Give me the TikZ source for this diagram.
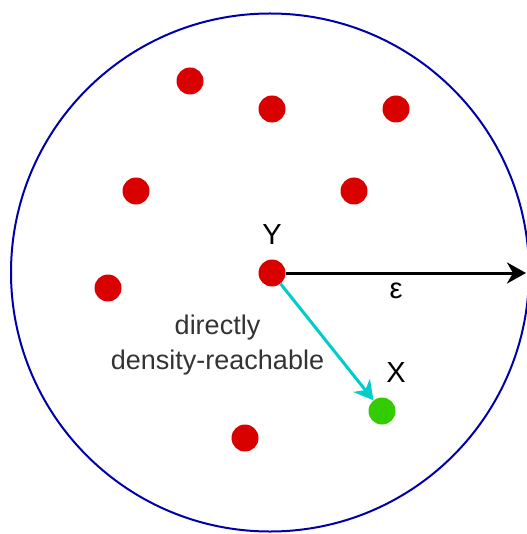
\documentclass[tikz,border=0pt]{standalone}
\usepackage{fontspec}
\setmainfont{Liberation Sans}
\usetikzlibrary{arrows.meta, positioning}
\definecolor{dotred}{HTML}{D90000}
\definecolor{dotgreen}{HTML}{33CC00}
\definecolor{rimblue}{HTML}{0000AA}
\definecolor{linkcyan}{HTML}{00CCCC}
\definecolor{textgray}{HTML}{333333}

\tikzset{
    dotnode/.style={circle, fill=dotred, minimum size=27pt, inner sep=0pt},
    pointlabel/.style={inner sep=0pt, font=\fontsize{29}{32}\selectfont},
    reachtip/.style={-{Stealth[length=19pt, width=21pt, inset=6pt]}}
}

\begin{document}
\begin{tikzpicture}[x=1pt, y=-1pt]
        \useasboundingbox (0,0) rectangle (526,534);
        % eps-neighbourhood
        \node[draw=rimblue, line width=2pt, circle, minimum size=518pt, inner sep=0pt] (region) at (270,272.5) {};
        \coordinate (rim) at (526,273);
        % other points
        \node[dotnode] (p1) at (190,81) {};
        \node[dotnode] (p2) at (272,109) {};
        \node[dotnode] (p3) at (396,109) {};
        \node[dotnode] (p4) at (136,191) {};
        \node[dotnode] (p5) at (354,191) {};
        \node[dotnode] (p6) at (108,288) {};
        \node[dotnode] (p7) at (245,438) {};
        % core point Y and point X
        \node[dotnode] (Y) at (272,273) {};
        \node[dotnode, fill=dotgreen] (X) at (382,411) {};
        \node[pointlabel, above=15pt of Y] (ylabel) {Y};
        \node[pointlabel, above=15pt of X, xshift=14pt] (xlabel) {X};
        % radius
        \draw[line width=3pt, reachtip] (Y) -- (rim);
        \node[pointlabel] (epslabel) at (396,291) {ε};
        % direct reachability
        \draw[line width=3pt, linkcyan, reachtip] (Y) -- (X);
        \node[align=center, text=textgray, font=\fontsize{27}{35}\selectfont] (reach) at (217.5,345) {directly\\density-reachable};
    \end{tikzpicture}
\end{document}
